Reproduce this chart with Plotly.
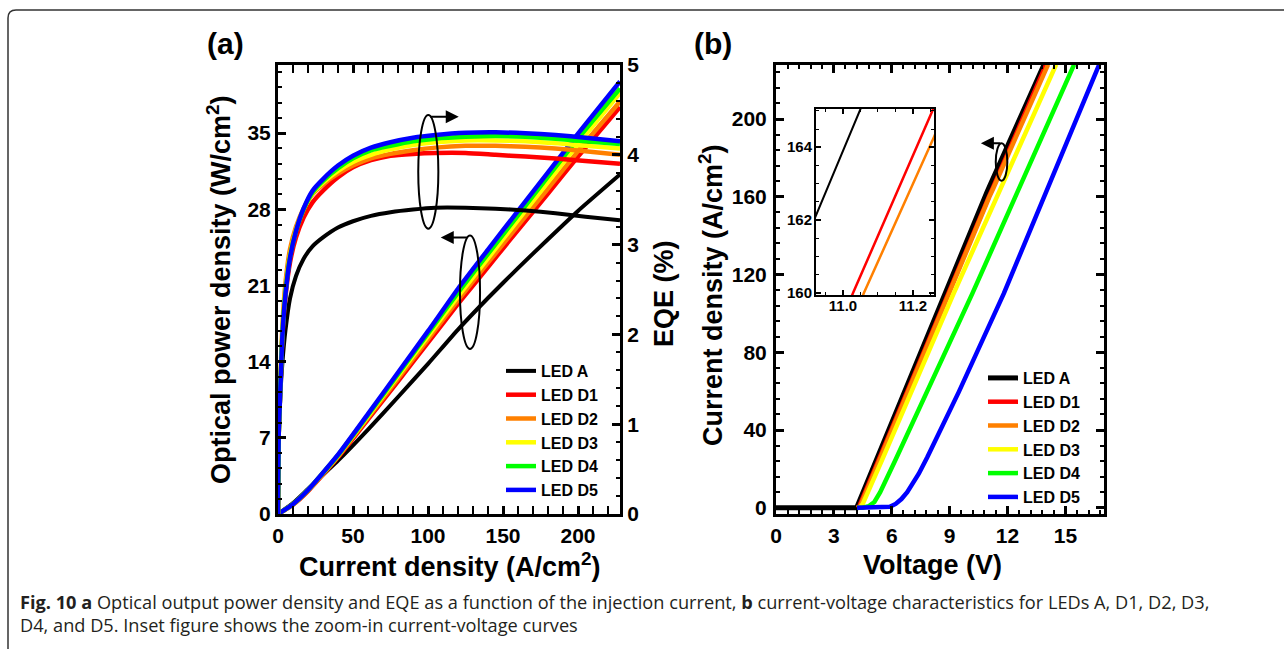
import plotly.graph_objects as go

W, H = 1284, 649

names = ["LED A", "LED D1", "LED D2", "LED D3", "LED D4", "LED D5"]
colors = ["#000000", "#FF0000", "#FF8000", "#FFFF00", "#00FF00", "#0000FF"]

# ---------------- Panel (a): optical power density (left axis) ----------------
J_power = [0, 10, 20, 40, 60, 80, 100, 120, 140, 160, 180, 200, 228]
P_A  = [0, 1.0, 2.3, 4.9, 7.75, 10.75, 13.8, 16.95, 19.85, 22.6, 25.25, 27.85, 31.2]
P_D1 = [0, 0.85, 2.1, 5.2, 8.7, 12.2, 15.75, 19.3, 22.7, 26.1, 29.45, 32.85, 37.4]
P_D2 = [0, 0.88, 2.15, 5.3, 8.85, 12.45, 16.05, 19.65, 23.1, 26.5, 29.9, 33.35, 37.9]
P_D3 = [0, 0.9, 2.2, 5.35, 9.0, 12.7, 16.35, 20.0, 23.5, 27.0, 30.5, 34.0, 38.7]
P_D4 = [0, 0.9, 2.2, 5.4, 9.1, 12.85, 16.6, 20.35, 23.9, 27.45, 31.0, 34.5, 39.1]
P_D5 = [0, 0.9, 2.2, 5.45, 9.2, 13.0, 16.8, 20.7, 24.3, 27.85, 31.4, 34.95, 39.75]

# ---------------- Panel (a): EQE (right axis) ----------------
J_eqe = [0, 0.5, 1.5, 3, 5, 8, 12, 17, 23, 30, 40, 50, 62, 75, 90, 105, 125, 145, 165, 185, 205, 228]
EQE_A  = [0, 0.8, 1.3, 1.7, 2.05, 2.4, 2.65, 2.84, 2.98, 3.08, 3.19, 3.26, 3.32, 3.36, 3.39, 3.41, 3.41, 3.40, 3.38, 3.35, 3.31, 3.27]
EQE_D1 = [0, 0.9, 1.35, 1.98, 2.42, 2.8, 3.08, 3.3, 3.47, 3.6, 3.75, 3.86, 3.94, 3.99, 4.01, 4.02, 4.02, 4.0, 3.98, 3.96, 3.93, 3.9]
EQE_D2 = [0, 0.95, 1.45, 2.12, 2.58, 2.95, 3.2, 3.4, 3.56, 3.67, 3.79, 3.88, 3.96, 4.01, 4.05, 4.08, 4.1, 4.1, 4.09, 4.07, 4.04, 4.0]
EQE_D3 = [0, 0.9, 1.38, 2.04, 2.5, 2.88, 3.16, 3.39, 3.57, 3.69, 3.82, 3.92, 4.0, 4.06, 4.11, 4.14, 4.16, 4.16, 4.15, 4.13, 4.1, 4.07]
EQE_D4 = [0, 0.9, 1.37, 2.02, 2.47, 2.86, 3.15, 3.39, 3.58, 3.71, 3.85, 3.96, 4.05, 4.1, 4.15, 4.18, 4.2, 4.21, 4.2, 4.18, 4.15, 4.12]
EQE_D5 = [0, 0.9, 1.35, 2.0, 2.45, 2.85, 3.15, 3.4, 3.6, 3.73, 3.88, 3.99, 4.08, 4.14, 4.19, 4.22, 4.245, 4.25, 4.24, 4.22, 4.19, 4.15]

# ---------------- Panel (b): current-voltage ----------------
V_A  = [0, 4.18, 10.92, 11.05, 13.89]
I_A  = [0, 0, 162.06, 165.05, 228]
V_D1 = [4.2, 4.3, 11.029, 11.254, 14.0]
I_D1 = [0, 0.5, 160, 164.97, 228]
V_D2 = [4.2, 4.35, 11.06, 11.26, 14.1]
I_D2 = [0, 0.5, 160, 164.28, 228]
V_D3 = [4.2, 4.35, 4.5, 5.5, 9.21, 14.52]
I_D3 = [0, 0.3, 2, 24.6, 110.3, 228]
V_D4 = [4.2, 4.5, 4.8, 5.1, 5.4, 6.19, 10.18, 15.45]
I_D4 = [0, 0, 0.8, 3, 8, 24.6, 110.3, 228]
V_D5 = [4.2, 5.6, 5.9, 6.2, 6.5, 6.8, 7.1, 7.4, 7.84, 9.47, 11.81, 16.75]
I_D5 = [0, 0, 0.5, 2, 4.5, 8, 12.5, 17.5, 26, 59.5, 110.3, 228]

P_list = [P_A, P_D1, P_D2, P_D3, P_D4, P_D5]
E_list = [EQE_A, EQE_D1, EQE_D2, EQE_D3, EQE_D4, EQE_D5]
V_list = [V_A, V_D1, V_D2, V_D3, V_D4, V_D5]
I_list = [I_A, I_D1, I_D2, I_D3, I_D4, I_D5]

FONT = "Liberation Sans, Arial, sans-serif"


def fx(x):
    return x / W


def fy(y):
    return 1 - y / H


fig = go.Figure()

for i in range(6):
    lw = 4 if i == 0 else 4.5
    fig.add_trace(go.Scatter(x=J_power, y=P_list[i], mode="lines", name=names[i],
                             line=dict(color=colors[i], width=lw, shape="spline", smoothing=0.5),
                             xaxis="x", yaxis="y", legend="legend", showlegend=True))
for i in range(6):
    lw = 4 if i == 0 else 4.5
    fig.add_trace(go.Scatter(x=J_eqe, y=E_list[i], mode="lines", name=names[i],
                             line=dict(color=colors[i], width=lw, shape="spline", smoothing=0.6),
                             xaxis="x", yaxis="y2", showlegend=False))
for i in range(6):
    lw = 5 if i == 0 else 4.5
    fig.add_trace(go.Scatter(x=V_list[i], y=I_list[i], mode="lines", name=names[i],
                             line=dict(color=colors[i], width=lw),
                             xaxis="x3", yaxis="y3", legend="legend2", showlegend=True))
for i in range(3):
    lw = 2 if i == 0 else 2.5
    fig.add_trace(go.Scatter(x=V_list[i], y=I_list[i], mode="lines", name=names[i],
                             line=dict(color=colors[i], width=lw),
                             xaxis="x4", yaxis="y4", showlegend=False))

tickfont = dict(family=FONT, size=21, color="black", weight="bold")
common = dict(showline=True, linecolor="black", linewidth=3, ticks="inside",
              tickcolor="black", tickwidth=2.5, ticklen=8, showgrid=False, zeroline=False,
              tickfont=tickfont)

dom_a_x = [fx(278), fx(620)]
dom_b_x = [fx(776), fx(1104)]
dom_y = [fy(514), fy(65)]

fig.update_layout(
    width=W, height=H,
    margin=dict(l=0, r=0, t=0, b=0, pad=0, autoexpand=False),
    paper_bgcolor="white", plot_bgcolor="white",
    xaxis=dict(domain=dom_a_x, anchor="y", range=[0, 228], tick0=0, dtick=50,
               mirror="allticks", ticklabelstandoff=1,
               minor=dict(dtick=10, ticks="inside", ticklen=4, tickwidth=2, tickcolor="black"),
               **common),
    yaxis=dict(domain=dom_y, anchor="x", range=[0, 41.26], tick0=0, dtick=7,
               mirror=False, ticklabelstandoff=0,
               minor=dict(dtick=1.4, ticks="inside", ticklen=4, tickwidth=2, tickcolor="black"),
               **common),
    yaxis2=dict(overlaying="y", side="right", anchor="x", range=[0, 5], tick0=0, dtick=1,
                ticklabelstandoff=0,
                minor=dict(dtick=0.2, ticks="inside", ticklen=4, tickwidth=2, tickcolor="black"),
                **common),
    xaxis3=dict(domain=dom_b_x, anchor="y3", range=[0, 17], tick0=0, dtick=3,
                mirror="allticks", ticklabelstandoff=1,
                minor=dict(dtick=0.6, ticks="inside", ticklen=4, tickwidth=2, tickcolor="black"),
                **common),
    yaxis3=dict(domain=dom_y, anchor="x3", range=[-3.2, 227.8], tick0=0, dtick=40,
                mirror="allticks", ticklabelstandoff=2,
                minor=dict(dtick=8, ticks="inside", ticklen=4, tickwidth=2, tickcolor="black"),
                **common),
    xaxis4=dict(domain=[fx(816), fx(934)], anchor="y4", range=[10.923, 11.26],
                tickvals=[11.0, 11.2], ticktext=["11.0", "11.2"],
                showline=True, linecolor="black", linewidth=2, mirror="allticks",
                ticks="inside", tickcolor="black", tickwidth=1.5, ticklen=5,
                minor=dict(dtick=0.05, ticks="inside", ticklen=3, tickwidth=1.2, tickcolor="black"),
                showgrid=False, zeroline=False, ticklabelstandoff=-4,
                tickfont=dict(family=FONT, size=15, color="black", weight="bold")),
    yaxis4=dict(domain=[fy(295), fy(109)], anchor="x4", range=[159.94, 165.05],
                tick0=160, dtick=2,
                showline=True, linecolor="black", linewidth=2, mirror="allticks",
                ticks="inside", tickcolor="black", tickwidth=1.5, ticklen=5,
                minor=dict(dtick=0.5, ticks="inside", ticklen=3, tickwidth=1.2, tickcolor="black"),
                showgrid=False, zeroline=False, ticklabelstandoff=-1,
                tickfont=dict(family=FONT, size=15, color="black", weight="bold")),
    legend=dict(x=fx(501), y=fy(354), xanchor="left", yanchor="top",
                bgcolor="rgba(0,0,0,0)", borderwidth=0,
                font=dict(family=FONT, size=16, color="black", weight="bold")),
    legend2=dict(x=fx(983), y=fy(361), xanchor="left", yanchor="top",
                 bgcolor="rgba(0,0,0,0)", borderwidth=0,
                 font=dict(family=FONT, size=16, color="black", weight="bold")),
    showlegend=True,
)

# ellipse annotations (data coordinates)
fig.add_shape(type="circle", xref="x", yref="y", x0=93.5, x1=106.9, y0=26.22, y1=36.66,
              line=dict(color="black", width=2))
fig.add_shape(type="circle", xref="x", yref="y", x0=121.3, x1=134.7, y0=15.17, y1=25.6,
              line=dict(color="black", width=2))
fig.add_shape(type="circle", xref="x3", yref="y3", x0=11.39, x1=11.99, y0=168.3, y1=187.5,
              line=dict(color="black", width=2))

arrow = dict(showarrow=True, arrowhead=2, arrowsize=1.3, arrowwidth=2, arrowcolor="black", text="")
fig.add_annotation(x=120.5, y=36.5, xref="x", yref="y", ax=-30, ay=0, **arrow)
fig.add_annotation(x=108.5, y=25.4, xref="x", yref="y", ax=28, ay=0, **arrow)
fig.add_annotation(x=10.62, y=187.5, xref="x3", yref="y3", ax=21, ay=0, **arrow)

texts = [
    ("(a)", 225, 43, 0, 30),
    ("(b)", 713, 43, 0, 30),
    ("Optical power density (W/cm<sup>2</sup>)", 219, 290, -90, 27),
    ("EQE (%)", 664, 293, -90, 27),
    ("Current density (A/cm<sup>2</sup>)", 450, 565, 0, 27),
    ("Current density (A/cm<sup>2</sup>)", 711, 295, -90, 27),
    ("Voltage (V)", 932, 565, 0, 27),
]
for t, x, y, ang, sz in texts:
    fig.add_annotation(text=t, x=fx(x), y=fy(y), xref="paper", yref="paper",
                       xanchor="center", yanchor="middle", textangle=ang, showarrow=False,
                       font=dict(family=FONT, size=sz, color="black", weight="bold"))

cap_font = dict(family="Open Sans, sans-serif", size=18.2, color="#231f20")
fig.add_annotation(text="<b>Fig. 10 a</b> Optical output power density and EQE as a function of the injection current, "
                        "<b>b</b> current-voltage characteristics for LEDs A, D1, D2, D3,",
                   x=fx(18), y=fy(602), xref="paper", yref="paper", xanchor="left", yanchor="middle",
                   showarrow=False, font=cap_font)
fig.add_annotation(text="D4, and D5. Inset figure shows the zoom-in current-voltage curves",
                   x=fx(18), y=fy(625), xref="paper", yref="paper", xanchor="left", yanchor="middle",
                   showarrow=False, font=cap_font)

# rounded outer frame
r = 8
path = (f"M {fx(8)},{fy(660)} L {fx(8)},{fy(10 + r)} "
        f"Q {fx(8)},{fy(10)} {fx(8 + r)},{fy(10)} L {fx(1300)},{fy(10)}")
fig.add_shape(type="path", xref="paper", yref="paper", path=path,
              line=dict(color="#333333", width=1.5))

fig.write_html("out.html")
